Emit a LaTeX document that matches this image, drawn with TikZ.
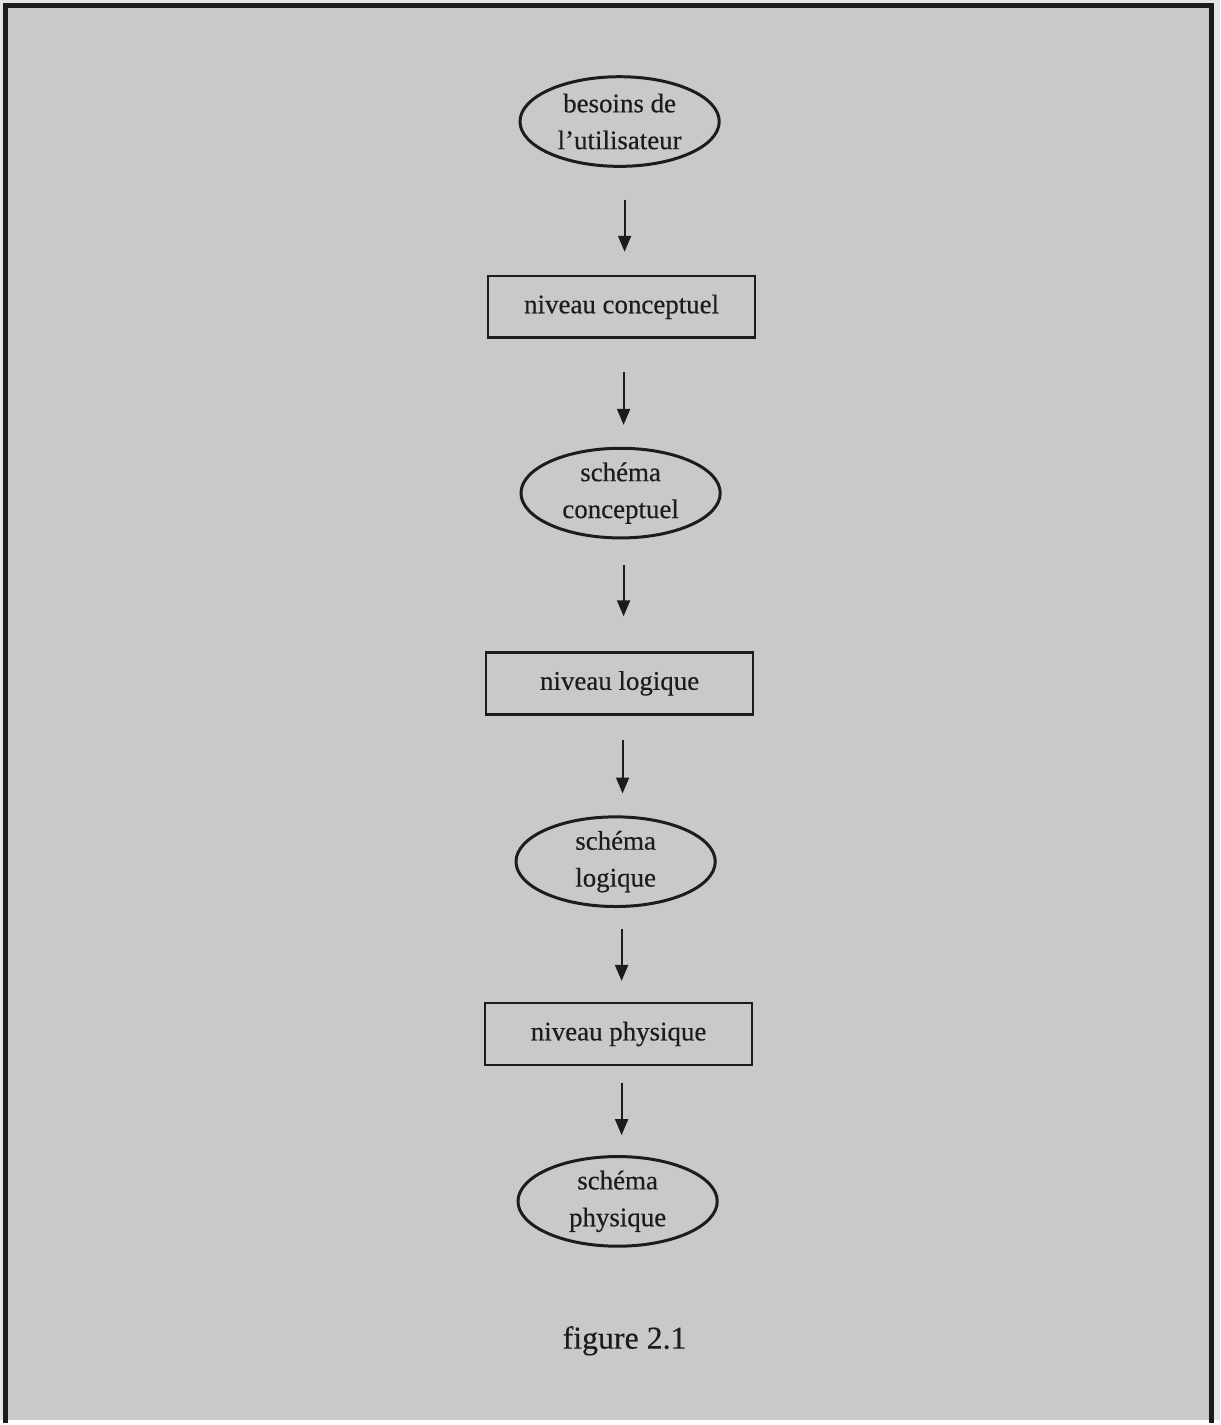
\documentclass[tikz,border=0pt]{standalone}
\usepackage{fontspec}
\setmainfont{Liberation Serif}[FakeBold=0.4]
\usetikzlibrary{shapes.geometric,arrows.meta}
\definecolor{paper}{HTML}{C7C9CA}
\definecolor{margin}{HTML}{E4E5E5}
\definecolor{ink}{HTML}{1C1C1C}
\begin{document}
\begin{tikzpicture}[x=1pt,y=-1pt,
  every node/.style={text=ink},
  lbl/.style={font=\fontsize{27}{37}\selectfont, align=center},
  ovalbox/.style={lbl, ellipse, draw=ink, line width=3pt, inner sep=0pt,
    minimum width=200pt, minimum height=90pt},
  levelbox/.style={lbl, rectangle, draw=ink, line width=2.6pt,
    minimum width=268pt, minimum height=62pt},
  flow/.style 2 args={draw=ink, line width=2pt,
    -{Triangle[width=13pt,length=16pt]},
    shorten <=#1pt, shorten >=#2pt}]
  % page and frame
  \fill[margin] (0,0) rectangle (1225,1425);
  \fill[paper] (6,6) rectangle (1216,1425);
  \draw[ink, line width=5pt] (6,1428) -- (6,6) -- (1216,6) -- (1216,1428);
  \useasboundingbox (0,0) rectangle (1225,1425);

  % chain of levels
  \node[ovalbox]  (need)  at (622,122)  {besoins de\\l’utilisateur};
  \node[levelbox] (conc)  at (624,308)  {niveau conceptuel};
  \node[ovalbox]  (sconc) at (623,495)  {schéma\\conceptuel};
  \node[levelbox] (logi)  at (622,686)  {niveau logique};
  \node[ovalbox]  (slogi) at (618,865)  {schéma\\logique};
  \node[levelbox] (phys)  at (621,1038) {niveau physique};
  \node[ovalbox]  (sphys) at (620,1206) {schéma\\physique};

  \node[font=\fontsize{32}{38}\selectfont] (cap) at (627,1346) {figure 2.1};

  % arrows between levels
  \draw[flow={32}{23}] ([xshift=5pt]need.south)  -- ([xshift=5pt]need.south |- conc.north);
  \draw[flow={33}{22}] ([xshift=2pt]conc.south)  -- ([xshift=2pt]conc.south |- sconc.north);
  \draw[flow={26}{35}] ([xshift=3pt]sconc.south) -- ([xshift=3pt]sconc.south |- logi.north);
  \draw[flow={25}{22}] ([xshift=3pt]logi.south)  -- ([xshift=3pt]logi.south |- slogi.north);
  \draw[flow={21}{21}] ([xshift=6pt]slogi.south) -- ([xshift=6pt]slogi.south |- phys.north);
  \draw[flow={17}{20}] ([xshift=3pt]phys.south)  -- ([xshift=3pt]phys.south |- sphys.north);
\end{tikzpicture}
\end{document}
